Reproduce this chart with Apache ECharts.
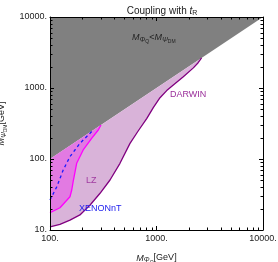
<!DOCTYPE html>
<html><head><meta charset="utf-8">
<script src="https://cdn.jsdelivr.net/npm/echarts@6/dist/echarts.min.js"></script>
<style>html,body{margin:0;padding:0;background:#fff}#c{width:278px;height:262px}</style>
</head><body><div id="c"></div>
<script>
// ---- data ----
const xRange = [100, 10000];
const yRange = [10, 10000];
const xTickLabels = ['100.', '1000.', '10000.'];
const yTickLabels = ['10.', '100.', '1000.', '10000.'];
const darwin = [[100,11.1],[124,12.0],[154,13.8],[191,16.3],[238,22.5],[295,32.9],[366,50.6],[454,86.9],[564,166],[675,250],[809,370],[933,530],[1079,730],[1247,920],[1439,1100],[1786,1443],[2218,1920],[2450,2250],[2650,2650]];
const lz = [[100,17.5],[124,20.6],[154,29.4],[160,36.6],[166,50.6],[178,87],[205,134],[246,195],[284,256],[301,301]];
const xenon = [[100,26.5],[116,40.8],[133,70],[154,108],[191,166],[252,252]];
const excluded = [[100,100],[10000,10000],[100,10000]];
const xMinor = [200,300,400,500,600,700,800,900,2000,3000,4000,5000,6000,7000,8000,9000];
const yMinor = [20,30,40,50,60,70,80,90,200,300,400,500,600,700,800,900,2000,3000,4000,5000,6000,7000,8000,9000];

const font = 'Liberation Sans, Arial, sans-serif';
const chart = echarts.init(document.getElementById('c'), null, {renderer:'canvas'});

function polySeries(points, color, z) {
  return {
    type:'custom', xAxisIndex:0, yAxisIndex:0, z:z, silent:true,
    data:[0],
    renderItem:function(params, api){
      return {type:'polygon', shape:{points:points.map(p=>api.coord(p))}, style:{fill:color, stroke:null}};
    }
  };
}
const purpleRegion = [[darwin[0][0], darwin[0][0]]].concat(darwin.slice().reverse());
const magentaRegion = [[lz[0][0], lz[0][0]]].concat(lz.slice().reverse());

function tickSeries(values, dir) {
  return {
    type:'custom', xAxisIndex:0, yAxisIndex:0, z:20, silent:true,
    data: values.map(v=>[v]),
    renderItem:function(params, api){
      const cs = params.coordSys;
      const L = 2.5;
      const st = {stroke:'#000', lineWidth:1};
      if (dir==='x') {
        const x = Math.round(api.coord([api.value(0), yRange[0]])[0]) + 0.5;
        return {type:'group', children:[
          {type:'line', shape:{x1:x,y1:cs.y+cs.height,x2:x,y2:cs.y+cs.height-L}, style:st},
          {type:'line', shape:{x1:x,y1:cs.y,x2:x,y2:cs.y+L}, style:st}
        ]};
      } else {
        const y = Math.round(api.coord([xRange[0], api.value(0)])[1]) + 0.5;
        return {type:'group', children:[
          {type:'line', shape:{x1:cs.x,y1:y,x2:cs.x+L,y2:y}, style:st},
          {type:'line', shape:{x1:cs.x+cs.width,y1:y,x2:cs.x+cs.width-L,y2:y}, style:st}
        ]};
      }
    }
  };
}

const labFmt = (labels, base) => function(v){
  const i = Math.round(Math.log10(v) - Math.log10(base));
  return labels[i] !== undefined ? labels[i] : '';
};

const axisCommon = {
  type:'log', logBase:10, interval:1, z:10,
  axisLine:{show:true, lineStyle:{color:'#000', width:1}},
  axisTick:{show:true, inside:true, length:4, lineStyle:{color:'#000'}},
  splitLine:{show:false}
};

chart.setOption({
  animation:false,
  backgroundColor:'#fff',
  title:{
    text:'Coupling with {it|t}{sub|R}', left:157, textAlign:'center', top:1,
    textStyle:{fontFamily:font, fontSize:10, fontWeight:'normal', color:'#222',
      rich:{it:{fontFamily:font, fontSize:10, fontStyle:'italic', color:'#222'}, sub:{fontFamily:font, fontSize:7, color:'#222', verticalAlign:'bottom', padding:[4,0,0,0]}}}
  },
  grid:{left:50, top:17, width:213, height:213, containLabel:false, outerBoundsMode:'none'},
  xAxis:[
    Object.assign({}, axisCommon, {position:'bottom', min:xRange[0], max:xRange[1],
      axisLabel:{show:true, formatter:labFmt(xTickLabels, xRange[0]), fontFamily:font, fontSize:9, color:'#222', margin:4},
      name:'{it|M}{sub|Φ}{subsub|Q}[GeV]', nameLocation:'middle', nameGap:21,
      nameTextStyle:{fontFamily:font, fontSize:9, color:'#222',
        rich:{it:{fontFamily:font,fontSize:9,fontStyle:'italic',color:'#222'}, sub:{fontFamily:font,fontSize:7,fontStyle:'italic',color:'#222',padding:[5,0,0,0]}, subsub:{fontFamily:font,fontSize:5,color:'#222',padding:[9,0,0,0]}}}
    }),
    Object.assign({}, axisCommon, {position:'top', min:xRange[0], max:xRange[1], axisLabel:{show:false}})
  ],
  yAxis:[
    Object.assign({}, axisCommon, {position:'left', min:yRange[0], max:yRange[1],
      axisLabel:{show:true, formatter:labFmt(yTickLabels, yRange[0]), fontFamily:font, fontSize:9, color:'#222', margin:3},
      name:'{it|M}{sub|Ψ}{subsub|DM}[GeV]', nameLocation:'middle', nameGap:39, nameRotate:90,
      nameTextStyle:{fontFamily:font, fontSize:9, color:'#222',
        rich:{it:{fontFamily:font,fontSize:9,fontStyle:'italic',color:'#222'}, sub:{fontFamily:font,fontSize:7,fontStyle:'italic',color:'#222',padding:[5,0,0,0]}, subsub:{fontFamily:font,fontSize:5,color:'#222',padding:[9,0,0,0]}}}
    }),
    Object.assign({}, axisCommon, {position:'right', min:yRange[0], max:yRange[1], axisLabel:{show:false}})
  ],
  graphic:[
    {type:'text', left:132, top:33, z:30, style:{text:'{it|M}{sub|Φ}{subsub|Q}{n|<}{it|M}{sub|Ψ}{subsub|DM}', fill:'#222',
      rich:{it:{fontFamily:font,fontSize:9,fontStyle:'italic',fill:'#222'}, n:{fontFamily:font,fontSize:9,fill:'#222'}, sub:{fontFamily:font,fontSize:7,fontStyle:'italic',fill:'#222',padding:[5,0,0,0]}, subsub:{fontFamily:font,fontSize:5,fill:'#222',padding:[9,0,0,0]}}}},
    {type:'text', left:170, top:90, z:30, style:{text:'DARWIN', fontFamily:font, fontSize:9, fill:'#9a2f9a'}},
    {type:'text', left:86, top:176, z:30, style:{text:'LZ', fontFamily:font, fontSize:9, fill:'#a03aa0'}},
    {type:'text', left:79, top:204, z:30, style:{text:'XENONnT', fontFamily:font, fontSize:9, fill:'#2222ee'}}
  ],
  series:[
    polySeries(excluded, '#808080', 2),
    polySeries(purpleRegion, '#d9b3d9', 3),
    polySeries(magentaRegion, '#e27ae2', 4),
    {type:'line', data:darwin, showSymbol:false, silent:true, z:6, lineStyle:{color:'#800080', width:1.3}},
    {type:'line', data:lz, showSymbol:false, silent:true, z:6, lineStyle:{color:'#ff00ff', width:1.3}},
    {type:'line', data:xenon, showSymbol:false, silent:true, z:7, lineStyle:{color:'#1a1aff', width:1.3, type:[3,3]}},
    tickSeries(xMinor, 'x'),
    tickSeries(yMinor, 'y')
  ]
});
</script></body></html>
